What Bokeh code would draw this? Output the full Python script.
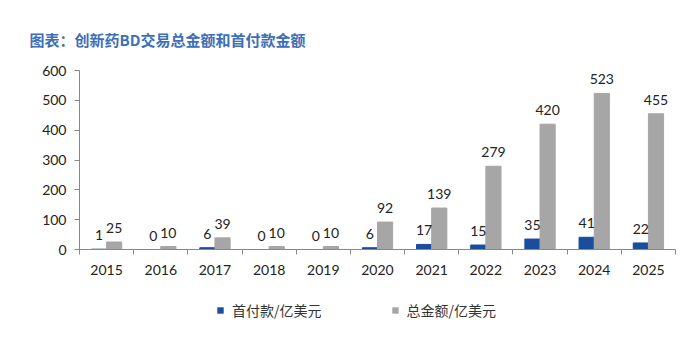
from bokeh.plotting import figure
from bokeh.layouts import column
from bokeh.models import ColumnDataSource, FixedTicker, Legend, LegendItem, Range1d, LabelSet, Title
from bokeh.core.properties import value
from bokeh.embed import file_html
from bokeh.resources import INLINE

years = ["2015", "2016", "2017", "2018", "2019", "2020", "2021", "2022", "2023", "2024", "2025"]
upfront = [1, 0, 6, 0, 0, 6, 17, 15, 35, 41, 22]
total = [25, 10, 39, 10, 10, 92, 139, 279, 420, 523, 455]
y_ticks = [0, 100, 200, 300, 400, 500, 600]
series_names = ["首付款/亿美元", "总金额/亿美元"]

BLUE = "#1a4d9c"
GRAY = "#a6a6a6"
NUM_FONT = "Lato"
CJK = "Noto Sans CJK SC"

n = len(years)
centers = [i + 0.5 for i in range(n)]
bw = 0.28
src = ColumnDataSource(dict(
    xb=[c - bw / 2 for c in centers],
    xg=[c + bw / 2 for c in centers],
    up=upfront, tot=total,
    up_s=[str(v) for v in upfront], tot_s=[str(v) for v in total],
))

p = figure(width=694, height=296, output_backend="svg", toolbar_location=None,
           x_range=Range1d(0, n), y_range=Range1d(0, 600),
           min_border_left=79, min_border_right=19, min_border_top=70, min_border_bottom=47)
p.background_fill_color = "white"
p.border_fill_color = "white"
p.outline_line_color = None
p.grid.visible = False

rb = p.vbar(x="xb", top="up", width=bw, source=src, color=BLUE)
rg = p.vbar(x="xg", top="tot", width=bw, source=src, color=GRAY)

for col, xcol in (("up", "xb"), ("tot", "xg")):
    ls = LabelSet(x=xcol, y=col, text=col + "_s", source=src, y_offset=9,
                  text_align="center", text_baseline="bottom",
                  text_font=value(NUM_FONT), text_font_size="14px", text_color="#222222")
    p.add_layout(ls)

# x axis: labels at centers, ticks at boundaries
xa = p.xaxis[0]
xa.ticker = FixedTicker(ticks=centers, minor_ticks=list(range(n + 1)))
xa.major_label_overrides = {c: y for c, y in zip(centers, years)}
xa.major_tick_out = 0
xa.major_tick_in = 0
xa.minor_tick_out = 5
xa.minor_tick_in = 0
xa.minor_tick_line_color = "#888888"
xa.axis_line_color = "#888888"
xa.major_label_text_font = NUM_FONT
xa.major_label_text_font_size = "14px"
xa.major_label_text_color = "#222222"
xa.major_label_standoff = 10

ya = p.yaxis[0]
ya.ticker = FixedTicker(ticks=y_ticks, minor_ticks=[])
ya.axis_line_color = "#888888"
ya.major_tick_line_color = "#888888"
ya.major_tick_out = 5
ya.major_tick_in = 0
ya.minor_tick_out = 0
ya.major_label_text_font = NUM_FONT
ya.major_label_text_font_size = "14px"
ya.major_label_text_color = "#222222"
ya.major_label_standoff = 8

t = Title(text="图表：创新药BD交易总金额和首付款金额", align="left", offset=-50,
          text_font=CJK, text_font_size="15px", text_font_style="bold",
          text_color="#3d6eb8", standoff=41)
p.add_layout(t, "above")

# legend strip below the chart (its glyphs have no extent, only their swatches show)
lg = figure(width=694, height=42, output_backend="svg", toolbar_location=None,
            x_range=Range1d(0, n), y_range=Range1d(10000, 10001),
            min_border=0)
lg.axis.visible = False
lg.grid.visible = False
lg.outline_line_color = None
lg.background_fill_color = "white"
lg.border_fill_color = "white"
lb = lg.vbar(x="xb", top="up", bottom="up", width=0, source=src,
             fill_color=BLUE, line_color=None)
lgr = lg.vbar(x="xg", top="tot", bottom="tot", width=0, source=src,
              fill_color=GRAY, line_color=None)

legend = Legend(items=[LegendItem(label=series_names[0], renderers=[lb]),
                       LegendItem(label=series_names[1], renderers=[lgr])],
                orientation="horizontal", location=(137, 18),
                glyph_width=8, glyph_height=8, label_standoff=8, spacing=69,
                label_text_font=CJK, label_text_font_size="14px", label_text_color="#333333",
                border_line_color=None, background_fill_alpha=0, padding=2, margin=0)
lg.add_layout(legend, "center")

layout = column(p, lg, spacing=0)
open("out.html", "w").write(file_html(layout, INLINE))
